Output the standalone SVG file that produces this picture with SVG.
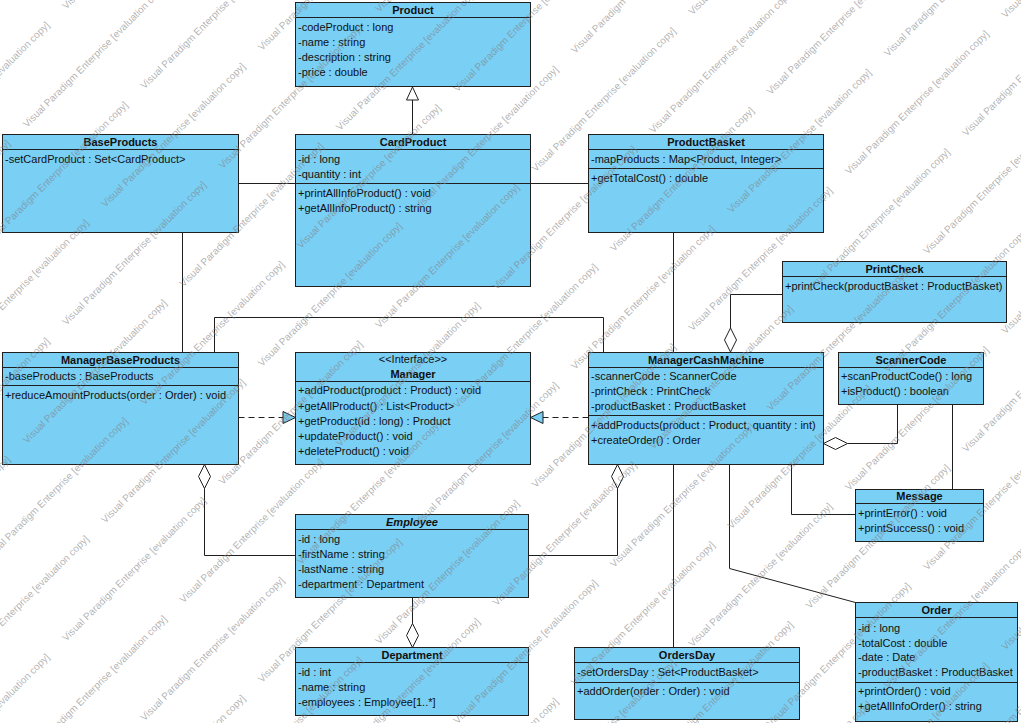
<svg xmlns="http://www.w3.org/2000/svg" width="1021" height="723" viewBox="0 0 1021 723">
<style>
.box{fill:#7ACFF5;stroke:#1f1f1f;stroke-width:1}
.dv{stroke:#1f1f1f;stroke-width:1}
.t{font-family:"Liberation Sans",Arial,sans-serif;font-size:11px;fill:#111}
.h{font-weight:bold;text-anchor:middle}
.it{font-style:italic}
.c{fill:none;stroke:#1f1f1f;stroke-width:1}
.dash{stroke-dasharray:6 4}
.hollow{fill:#fff;stroke:#1f1f1f;stroke-width:1}
.real{fill:#7ACFF5;stroke:#1f1f1f;stroke-width:1}
.wm{font-family:"Liberation Sans",Arial,sans-serif;font-size:10px;fill:#808080;fill-opacity:.6}
</style>
<defs>
<text id="wm" class="wm" transform="rotate(-45)">Visual Paradigm Enterprise [evaluation copy]</text>
<g id="tile">
<use href="#wm" x="0" y="0"/>
<use href="#wm" x="195.7" y="41.3"/>
<use href="#wm" x="78.3" y="79.7"/>
<use href="#wm" x="274" y="121"/>
<use href="#wm" x="156.6" y="159.4"/>
<use href="#wm" x="39.2" y="197.8"/>
<use href="#wm" x="234.9" y="239.1"/>
<use href="#wm" x="117.5" y="277.5"/>
</g>
</defs>
<rect width="1021" height="723" fill="#fff"/>

<g id="connectors">
<path class="c" d="M238.5 183.5H295.5"/>
<path class="c" d="M530.5 183.5H588.5"/>
<path class="c" d="M182.5 232.5V352.5"/>
<path class="c" d="M673.5 232.5V352.5"/>
<path class="c" d="M214.5 352.5V317.5H603.5V352.5"/>
<path class="c" d="M412.5 134.5V100"/>
<polygon class="hollow" points="412.5,87 406.5,100 418.5,100"/>
<path class="c" d="M782.5 294.5H730.5V328"/>
<polygon class="hollow" points="730.5,328 736.5,340 730.5,352 724.5,340"/>
<path class="c dash" d="M238.5 417.5H283"/>
<polygon class="real" points="295.5,417.5 283,411.5 283,423.5"/>
<path class="c dash" d="M588.5 417.5H543"/>
<polygon class="real" points="530.5,417.5 543,411.5 543,423.5"/>
<path class="c" d="M204.5 488.5V555.5H295.5"/>
<polygon class="hollow" points="204.5,464.5 210.5,476.5 204.5,488.5 198.5,476.5"/>
<path class="c" d="M617.5 488.5V555.5H528.5"/>
<polygon class="hollow" points="617.5,464.5 623.5,476.5 617.5,488.5 611.5,476.5"/>
<path class="c" d="M412.5 597.5V623.5"/>
<polygon class="hollow" points="412.5,623.5 418.5,635.5 412.5,647.5 406.5,635.5"/>
<path class="c" d="M897.5 404.5V443.5H847.5"/>
<polygon class="hollow" points="823.5,443.5 835.5,437.5 847.5,443.5 835.5,449.5"/>
<path class="c" d="M952.5 404.5V489.5"/>
<path class="c" d="M791.5 464.5V514.5H855.5"/>
<path class="c" d="M673.5 464.5V647.5"/>
<path class="c" d="M729.5 464.5V568.5L855.5 602.5"/>
</g>

<g id="Product">
<rect class="box" x="295.5" y="2.5" width="235" height="84"/>
<line class="dv" x1="295.5" y1="17.5" x2="530.5" y2="17.5"/>
<text class="t h" x="413" y="14">Product</text>
<text class="t" x="298" y="31">-codeProduct : long</text>
<text class="t" x="298" y="46">-name : string</text>
<text class="t" x="298" y="61">-description : string</text>
<text class="t" x="298" y="76">-price : double</text>
</g>

<g id="CardProduct">
<rect class="box" x="295.5" y="134.5" width="235" height="152"/>
<line class="dv" x1="295.5" y1="149.5" x2="530.5" y2="149.5"/>
<line class="dv" x1="295.5" y1="183.5" x2="530.5" y2="183.5"/>
<text class="t h" x="413" y="146">CardProduct</text>
<text class="t" x="298" y="163">-id : long</text>
<text class="t" x="298" y="178">-quantity : int</text>
<text class="t" x="298" y="197">+printAllInfoProduct() : void</text>
<text class="t" x="298" y="212">+getAllInfoProduct() : string</text>
</g>

<g id="BaseProducts">
<rect class="box" x="2.5" y="134.5" width="236" height="98"/>
<line class="dv" x1="2.5" y1="149.5" x2="238.5" y2="149.5"/>
<text class="t h" x="120.5" y="146">BaseProducts</text>
<text class="t" x="5" y="163">-setCardProduct : Set&lt;CardProduct&gt;</text>
</g>

<g id="ProductBasket">
<rect class="box" x="588.5" y="134.5" width="235" height="98"/>
<line class="dv" x1="588.5" y1="149.5" x2="823.5" y2="149.5"/>
<line class="dv" x1="588.5" y1="168.5" x2="823.5" y2="168.5"/>
<text class="t h" x="706" y="146">ProductBasket</text>
<text class="t" x="591" y="163">-mapProducts : Map&lt;Product, Integer&gt;</text>
<text class="t" x="591" y="182">+getTotalCost() : double</text>
</g>

<g id="PrintCheck">
<rect class="box" x="782.5" y="261.5" width="224" height="61"/>
<line class="dv" x1="782.5" y1="276.5" x2="1006.5" y2="276.5"/>
<text class="t h" x="894.5" y="273">PrintCheck</text>
<text class="t" x="785" y="290">+printCheck(productBasket : ProductBasket)</text>
</g>

<g id="ManagerBaseProducts">
<rect class="box" x="2.5" y="352.5" width="236" height="112"/>
<line class="dv" x1="2.5" y1="367.5" x2="238.5" y2="367.5"/>
<line class="dv" x1="2.5" y1="385.5" x2="238.5" y2="385.5"/>
<text class="t h" x="120.5" y="364">ManagerBaseProducts</text>
<text class="t" x="5" y="380">-baseProducts : BaseProducts</text>
<text class="t" x="5" y="399">+reduceAmountProducts(order : Order) : void</text>
</g>

<g id="Manager">
<rect class="box" x="295.5" y="352.5" width="235" height="112"/>
<line class="dv" x1="295.5" y1="381.5" x2="530.5" y2="381.5"/>
<text class="t" x="413" y="363" text-anchor="middle">&lt;&lt;Interface&gt;&gt;</text>
<text class="t h" x="413" y="378">Manager</text>
<text class="t" x="298" y="394">+addProduct(product : Product) : void</text>
<text class="t" x="298" y="410">+getAllProduct() : List&lt;Product&gt;</text>
<text class="t" x="298" y="425">+getProduct(id : long) : Product</text>
<text class="t" x="298" y="440">+updateProduct() : void</text>
<text class="t" x="298" y="455">+deleteProduct() : void</text>
</g>

<g id="ManagerCashMachine">
<rect class="box" x="588.5" y="352.5" width="235" height="112"/>
<line class="dv" x1="588.5" y1="367.5" x2="823.5" y2="367.5"/>
<line class="dv" x1="588.5" y1="415.5" x2="823.5" y2="415.5"/>
<text class="t h" x="706" y="364">ManagerCashMachine</text>
<text class="t" x="591" y="380">-scannerCode : ScannerCode</text>
<text class="t" x="591" y="395">-printCheck : PrintCheck</text>
<text class="t" x="591" y="410">-productBasket : ProductBasket</text>
<text class="t" x="591" y="429">+addProducts(product : Product, quantity : int)</text>
<text class="t" x="591" y="444">+createOrder() : Order</text>
</g>

<g id="ScannerCode">
<rect class="box" x="838.5" y="352.5" width="145" height="52"/>
<line class="dv" x1="838.5" y1="367.5" x2="983.5" y2="367.5"/>
<text class="t h" x="911" y="364">ScannerCode</text>
<text class="t" x="841" y="380">+scanProductCode() : long</text>
<text class="t" x="841" y="395">+isProduct() : boolean</text>
</g>

<g id="Message">
<rect class="box" x="855.5" y="489.5" width="128" height="52"/>
<line class="dv" x1="855.5" y1="503.5" x2="983.5" y2="503.5"/>
<text class="t h" x="919.5" y="500">Message</text>
<text class="t" x="858" y="517">+printError() : void</text>
<text class="t" x="858" y="532">+printSuccess() : void</text>
</g>

<g id="Employee">
<rect class="box" x="295.5" y="514.5" width="233" height="83"/>
<line class="dv" x1="295.5" y1="529.5" x2="528.5" y2="529.5"/>
<text class="t h it" x="412" y="526">Employee</text>
<text class="t" x="298" y="543">-id : long</text>
<text class="t" x="298" y="558">-firstName : string</text>
<text class="t" x="298" y="573">-lastName : string</text>
<text class="t" x="298" y="588">-department : Department</text>
</g>

<g id="Department">
<rect class="box" x="295.5" y="647.5" width="233" height="68"/>
<line class="dv" x1="295.5" y1="662.5" x2="528.5" y2="662.5"/>
<text class="t h" x="412" y="659">Department</text>
<text class="t" x="298" y="676">-id : int</text>
<text class="t" x="298" y="691">-name : string</text>
<text class="t" x="298" y="706">-employees : Employee[1..*]</text>
</g>

<g id="OrdersDay">
<rect class="box" x="574.5" y="647.5" width="225" height="72"/>
<line class="dv" x1="574.5" y1="662.5" x2="799.5" y2="662.5"/>
<line class="dv" x1="574.5" y1="682.5" x2="799.5" y2="682.5"/>
<text class="t h" x="687" y="659">OrdersDay</text>
<text class="t" x="577" y="676">-setOrdersDay : Set&lt;ProductBasket&gt;</text>
<text class="t" x="577" y="695">+addOrder(order : Order) : void</text>
</g>

<g id="Order">
<rect class="box" x="855.5" y="602.5" width="162" height="119"/>
<line class="dv" x1="855.5" y1="617.5" x2="1017.5" y2="617.5"/>
<line class="dv" x1="855.5" y1="682.5" x2="1017.5" y2="682.5"/>
<text class="t h" x="936.5" y="614">Order</text>
<text class="t" x="858" y="632">-id : long</text>
<text class="t" x="858" y="647">-totalCost : double</text>
<text class="t" x="858" y="661">-date : Date</text>
<text class="t" x="858" y="676">-productBasket : ProductBasket</text>
<text class="t" x="858" y="695">+printOrder() : void</text>
<text class="t" x="858" y="710">+getAllInfoOrder() : string</text>
</g>

<g id="watermark">
<use href="#tile" x="-286.1" y="-190.9"/>
<use href="#tile" x="27" y="-188"/>
<use href="#tile" x="340.1" y="-185.1"/>
<use href="#tile" x="653.2" y="-182.2"/>
<use href="#tile" x="966.3" y="-179.3"/>
<use href="#tile" x="-286.1" y="125.1"/>
<use href="#tile" x="27" y="128"/>
<use href="#tile" x="340.1" y="130.9"/>
<use href="#tile" x="653.2" y="133.8"/>
<use href="#tile" x="966.3" y="136.7"/>
<use href="#tile" x="-286.1" y="441.1"/>
<use href="#tile" x="27" y="444"/>
<use href="#tile" x="340.1" y="446.9"/>
<use href="#tile" x="653.2" y="449.8"/>
<use href="#tile" x="966.3" y="452.7"/>
<use href="#tile" x="-286.1" y="757.1"/>
<use href="#tile" x="27" y="760"/>
<use href="#tile" x="340.1" y="762.9"/>
<use href="#tile" x="653.2" y="765.8"/>
<use href="#tile" x="966.3" y="768.7"/>
</g>
</svg>
